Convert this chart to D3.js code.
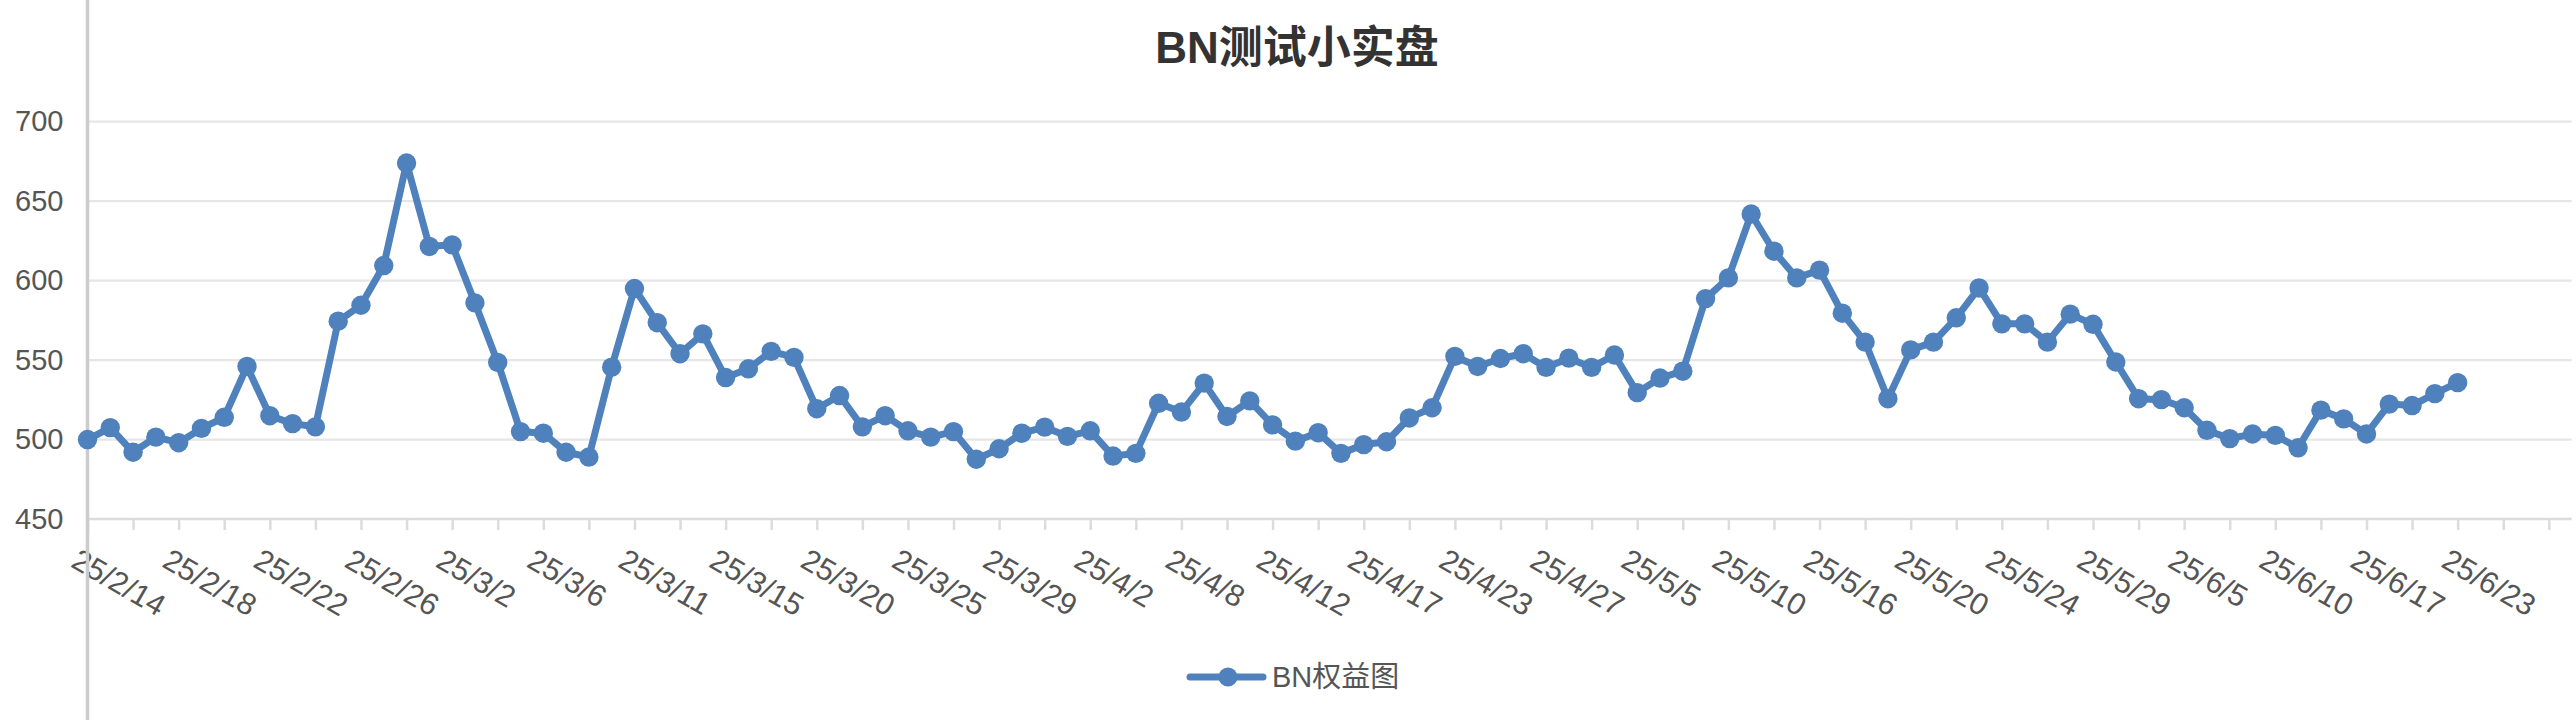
<!DOCTYPE html>
<html>
<head>
<meta charset="utf-8">
<script src="https://cdn.jsdelivr.net/npm/d3@7"></script>
<style>
  body { margin: 0; background: #fff; }
  text { font-family: "Liberation Sans", Arial, "Noto Sans CJK SC", sans-serif; }
</style>
</head>
<body>
<svg id="chart" width="2576" height="720"></svg>
<script>
// dates on the category axis (last five slots carry no data)
var categories = [
  "25/2/14","25/2/15","25/2/16","25/2/17","25/2/18","25/2/19","25/2/20","25/2/21",
  "25/2/22","25/2/23","25/2/24","25/2/25","25/2/26","25/2/27","25/2/28","25/3/1",
  "25/3/2","25/3/3","25/3/4","25/3/5","25/3/6","25/3/7","25/3/8","25/3/10",
  "25/3/11","25/3/12","25/3/13","25/3/14","25/3/15","25/3/16","25/3/18","25/3/19",
  "25/3/20","25/3/21","25/3/23","25/3/24","25/3/25","25/3/26","25/3/27","25/3/28",
  "25/3/29","25/3/30","25/3/31","25/4/1","25/4/2","25/4/3","25/4/5","25/4/7",
  "25/4/8","25/4/9","25/4/10","25/4/11","25/4/12","25/4/13","25/4/15","25/4/16",
  "25/4/17","25/4/18","25/4/20","25/4/22","25/4/23","25/4/24","25/4/25","25/4/26",
  "25/4/27","25/4/28","25/4/30","25/5/2","25/5/5","25/5/6","25/5/8","25/5/9",
  "25/5/10","25/5/11","25/5/13","25/5/15","25/5/16","25/5/17","25/5/18","25/5/19",
  "25/5/20","25/5/21","25/5/22","25/5/23","25/5/24","25/5/25","25/5/27","25/5/28",
  "25/5/29","25/5/31","25/6/2","25/6/4","25/6/5","25/6/6","25/6/8","25/6/9",
  "25/6/10","25/6/12","25/6/14","25/6/16","25/6/17","25/6/18","25/6/20","25/6/22",
  "25/6/23","25/6/24","25/6/25","25/6/26","25/6/27","25/6/28"
];

// BN权益图
var equity = [
  500, 507.5, 492, 501.5, 498, 507, 514, 546, 515, 510,
  508, 574.5, 584.5, 609.5, 674, 621.5, 622.5, 586, 548.5, 505,
  504, 492, 489, 545.5, 595, 573.5, 554, 566.5, 539, 544.5,
  555.5, 551.7, 519.4, 527.7, 508, 515, 505.5, 501.5, 505, 487.6,
  494.2, 504, 507.8, 502, 505.5, 489.6, 491.3, 522.8, 517.3, 535.5,
  514.5, 524.3, 509.2, 499, 504.3, 491.3, 496.8, 498.6, 513.6, 520,
  552.3, 546, 551, 554, 545.4, 551.2, 545.4, 553.2, 529.5, 538.7,
  543, 588.7, 601.7, 641.9, 618.5, 601.7, 606.6, 579.5, 561.3, 525.7,
  556.4, 561.3, 576.6, 595.4, 572.8, 572.8, 561.3, 578.9, 572.5, 548.8,
  525.7, 525.1, 520, 505.8, 500.6, 503.5, 502.6, 494.8, 518.5, 513,
  503.5, 522.3, 521.4, 528.9, 535.8
];

var yTicks = [450, 500, 550, 600, 650, 700];
var labelEvery = 4;
var tickEvery = 2;

var svg = d3.select("#chart");
var plotLeft = 87.5, plotRight = 2571.6, plotTop = 121.7, plotBottom = 519;

var x = d3.scalePoint()
  .domain(d3.range(categories.length))
  .range([plotLeft, plotRight]);

var y = d3.scaleLinear()
  .domain([450, 700])
  .range([plotBottom, plotTop]);

// title
svg.append("text")
  .attr("x", 1297)
  .attr("y", 63)
  .attr("text-anchor", "middle")
  .attr("font-size", 44)
  .attr("font-weight", "bold")
  .attr("fill", "#333")
  .text("BN测试小实盘");

// grid
svg.append("g")
  .selectAll("line")
  .data(yTicks.slice(1))
  .join("line")
  .attr("x1", plotLeft)
  .attr("x2", plotRight)
  .attr("y1", function(d){ return y(d); })
  .attr("y2", function(d){ return y(d); })
  .attr("stroke", "#e6e6e6")
  .attr("stroke-width", 2.2);

// y axis labels
var yAxis = svg.append("g")
  .attr("transform", "translate(" + plotLeft + ",0)")
  .call(d3.axisLeft(y).tickValues(yTicks).tickSize(0).tickPadding(24));
yAxis.select(".domain").remove();
yAxis.selectAll("text")
  .attr("font-size", 29)
  .attr("fill", "#555")
  .attr("font-family", null);

// x axis
var xAxis = svg.append("g")
  .attr("transform", "translate(0," + plotBottom + ")")
  .call(d3.axisBottom(x)
    .tickValues(x.domain().filter(function(i){ return i % tickEvery === 0; }))
    .tickSize(11)
    .tickFormat(""));
xAxis.select(".domain")
  .attr("d", "M" + plotLeft + ",0H" + plotRight)
  .attr("stroke", "#dcdcdc")
  .attr("stroke-width", 2.5);
xAxis.selectAll(".tick line")
  .attr("stroke", "#dcdcdc")
  .attr("stroke-width", 2.5);

svg.append("g")
  .selectAll("text")
  .data(x.domain().filter(function(i){ return i % labelEvery === 0 && i < equity.length; }))
  .join("text")
  .attr("transform", function(i){
    return "translate(" + (x(i) - 18) + "," + (plotBottom + 47) + ") rotate(30)";
  })
  .attr("font-size", 30.5)
  .attr("fill", "#555")
  .text(function(i){ return categories[i]; });

// vertical axis rule, full height
svg.append("line")
  .attr("x1", plotLeft).attr("x2", plotLeft)
  .attr("y1", 0).attr("y2", 720)
  .attr("stroke", "#cccccc")
  .attr("stroke-width", 3.5);

// series
var blue = "#4f81bd";
var line = d3.line()
  .x(function(d, i){ return x(i); })
  .y(function(d){ return y(d); });

svg.append("path")
  .datum(equity)
  .attr("d", line)
  .attr("fill", "none")
  .attr("stroke", blue)
  .attr("stroke-width", 7)
  .attr("stroke-linejoin", "round");

svg.append("g")
  .selectAll("circle")
  .data(equity)
  .join("circle")
  .attr("cx", function(d, i){ return x(i); })
  .attr("cy", function(d){ return y(d); })
  .attr("r", 9.7)
  .attr("fill", blue);

// legend
var legend = svg.append("g");
legend.append("line")
  .attr("x1", 1190).attr("x2", 1263)
  .attr("y1", 677).attr("y2", 677)
  .attr("stroke", blue)
  .attr("stroke-width", 7)
  .attr("stroke-linecap", "round");
legend.append("circle")
  .attr("cx", 1228).attr("cy", 677)
  .attr("r", 9.5)
  .attr("fill", blue);
legend.append("text")
  .attr("x", 1272)
  .attr("y", 677)
  .attr("dy", "0.35em")
  .attr("font-size", 29)
  .attr("fill", "#555")
  .text("BN权益图");
</script>
</body>
</html>
